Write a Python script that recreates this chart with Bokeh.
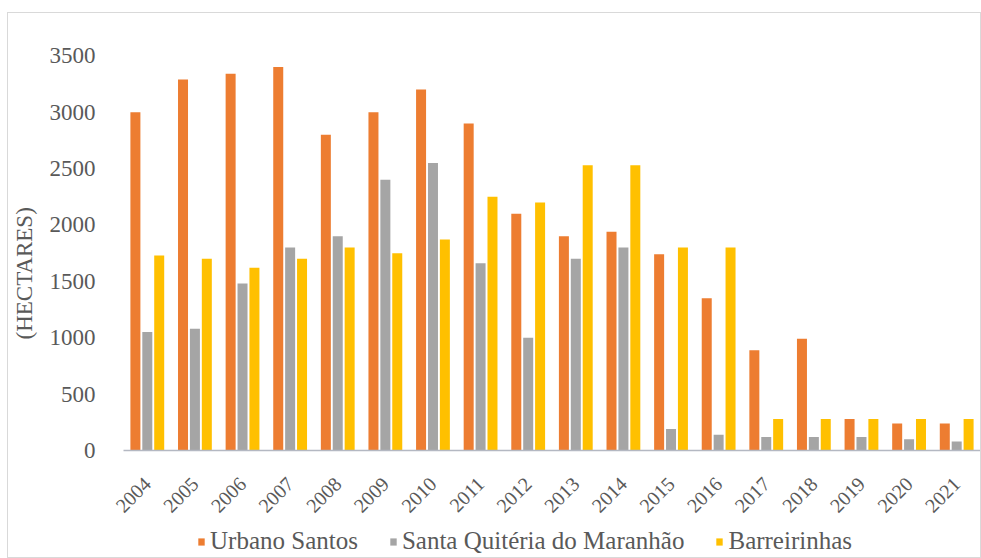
import math
from bokeh.plotting import figure
from bokeh.models import FactorRange, Range1d, FixedTicker, Legend, LegendItem, ColumnDataSource
from bokeh.transform import dodge
from bokeh.layouts import column
from bokeh.embed import file_html
from bokeh.resources import INLINE

years = [str(y) for y in range(2004, 2022)]
urbano_santos = [3000, 3290, 3340, 3400, 2800, 3000, 3200, 2900, 2100, 1900,
                 1940, 1740, 1350, 890, 990, 280, 240, 240]
santa_quiteria = [1050, 1080, 1480, 1800, 1900, 2400, 2550, 1660, 1000, 1700,
                  1800, 190, 140, 120, 120, 120, 100, 80]
barreirinhas = [1730, 1700, 1620, 1700, 1800, 1750, 1870, 2250, 2200, 2530,
                2530, 1800, 1800, 280, 280, 280, 280, 280]
y_ticks = [0, 500, 1000, 1500, 2000, 2500, 3000, 3500]
series_names = ["Urbano Santos", "Santa Quitéria do Maranhão", "Barreirinhas"]
colors = ["#ED7D31", "#A5A5A5", "#FFC000"]

source = ColumnDataSource(dict(years=years, us=urbano_santos,
                               sq=santa_quiteria, ba=barreirinhas))

FONT = "Liberation Serif"
TXT = "#595959"

LEG_H = 32
p = figure(x_range=FactorRange(*years, range_padding=0),
           y_range=Range1d(0, 3600),
           width=972, height=544 - LEG_H, output_backend="svg", toolbar_location=None,
           min_border_left=107, min_border_right=0, min_border_top=31,
           min_border_bottom=544 - LEG_H - 437)
p.outline_line_color = None
p.grid.grid_line_color = None

for key, off, col in zip(["us", "sq", "ba"], [-0.25, 0.0, 0.25], colors):
    p.vbar(x=dodge("years", off, range=p.x_range), top=key, width=0.21,
           source=source, fill_color=col, line_color=None)

xa = p.xaxis[0]
xa.major_label_orientation = math.pi / 4
xa.major_label_text_font = FONT
xa.major_label_text_font_size = "20px"
xa.major_label_text_color = TXT
xa.major_tick_line_color = None
xa.minor_tick_line_color = None
xa.axis_line_color = "#B4B8C2"
xa.axis_line_width = 1.5
xa.major_label_standoff = 24

ya = p.yaxis[0]
ya.ticker = FixedTicker(ticks=y_ticks)
ya.axis_line_color = None
ya.major_tick_line_color = None
ya.minor_tick_line_color = None
ya.major_label_text_font = FONT
ya.major_label_text_font_size = "23px"
ya.major_label_text_color = TXT
ya.major_label_standoff = 22
ya.axis_label = "(HECTARES)" + "\u00a0" * 9
ya.axis_label_text_font = FONT
ya.axis_label_text_font_size = "23px"
ya.axis_label_text_font_style = "normal"
ya.axis_label_text_color = TXT
ya.axis_label_standoff = 10

# legend strip below the chart (its frame is aligned with the chart's frame)
lf = figure(width=972, height=LEG_H, x_range=Range1d(0, 1), y_range=Range1d(0, 1),
            x_axis_type=None, y_axis_type=None, output_backend="svg",
            toolbar_location=None, min_border=0)
lf.outline_line_color = None
lf.grid.grid_line_color = None
leg_renderers = [lf.vbar(x=[-5], top=[-5], width=0.1, fill_color=c, line_color=None)
                 for c in colors]
legend = Legend(items=[LegendItem(label=n, renderers=[r])
                       for n, r in zip(series_names, leg_renderers)],
                orientation="horizontal", location=(74, 2),
                glyph_width=8, glyph_height=9, label_standoff=5, spacing=31,
                padding=0, margin=0, border_line_color=None,
                background_fill_alpha=0,
                label_text_font=FONT, label_text_font_size="25px",
                label_text_color=TXT)
lf.add_layout(legend, "center")

root = column(p, lf, spacing=0, margin=(12, 0, 0, 7),
              styles={"border": "1px solid #D9D9D9"})

open("out.html", "w").write(file_html(root, INLINE))
